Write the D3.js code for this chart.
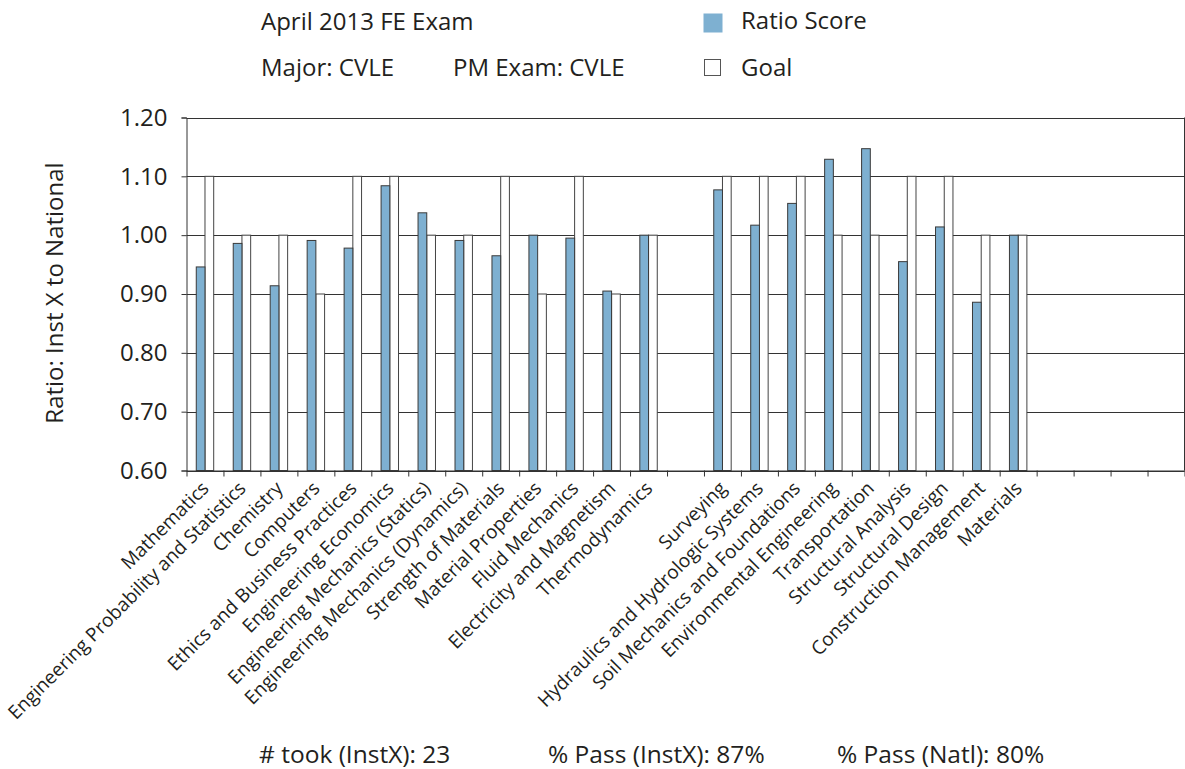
<!DOCTYPE html>
<html>
<head>
<meta charset="utf-8">
<script src="https://cdn.jsdelivr.net/npm/d3@7"></script>
<style>
    body { margin: 0; background: #fff; }
    text { font-family: "Open Sans", sans-serif; fill: #231f20; }
</style>
</head>
<body>
<div id="chart"></div>
<script>

// categories of the exam (blank ones are empty slots on the axis)
var categories = ["Mathematics", "Engineering Probability and Statistics", "Chemistry", "Computers",
    "Ethics and Business Practices", "Engineering Economics", "Engineering Mechanics (Statics)",
    "Engineering Mechanics (Dynamics)", "Strength of Materials", "Material Properties", "Fluid Mechanics",
    "Electricity and Magnetism", "Thermodynamics", "", "Surveying", "Hydraulics and Hydrologic Systems",
    "Soil Mechanics and Foundations", "Environmental Engineering", "Transportation", "Structural Analysis",
    "Structural Design", "Construction Management", "Materials", "", "", "", ""];

var ratioScores = [0.946, 0.986, 0.914, 0.991, 0.978, 1.084, 1.038, 0.991, 0.965, 1.000, 0.995, 0.905, 1.000,
    null, 1.077, 1.017, 1.054, 1.129, 1.147, 0.955, 1.014, 0.886, 1.000, null, null, null, null];

var goals = [1.10, 1.00, 1.00, 0.90, 1.10, 1.10, 1.00, 1.00, 1.10, 0.90, 1.10, 0.90, 1.00,
    null, 1.10, 1.10, 1.10, 1.00, 1.00, 1.10, 1.10, 1.00, 1.00, null, null, null, null];

var yTicks = [0.60, 0.70, 0.80, 0.90, 1.00, 1.10, 1.20];

var headerLines = ["April 2013 FE Exam", "Major: CVLE", "PM Exam: CVLE"];
var legendLabels = ["Ratio Score", "Goal"];
var footerLabels = ["# took (InstX): 23", "% Pass (InstX): 87%", "% Pass (Natl): 80%"];

var blue = "#7eb0d1";

var svg = d3.select("#chart").append("svg")
    .attr("width", 1185)
    .attr("height", 769);

var plotLeft = 186.5, plotRight = 1184.5, plotTop = 117.5, plotBottom = 470.5;

var x = d3.scaleBand()
    .domain(d3.range(categories.length))
    .range([plotLeft, plotRight]);

var x1 = d3.scaleBand()
    .domain(["ratio", "goal"])
    .range([0, x.bandwidth()])
    .paddingOuter(1.12);

var xEdge = d3.scaleLinear()
    .domain([0, categories.length])
    .range([plotLeft, plotRight]);

var y = d3.scaleLinear()
    .domain([0.6, 1.2])
    .range([plotBottom, plotTop]);

//gridlines
svg.append("g").selectAll("line")
    .data(yTicks)
    .enter().append("line")
    .attr("x1", plotLeft)
    .attr("x2", plotRight)
    .attr("y1", function (d) { return Math.round(y(d)) + 0.5; })
    .attr("y2", function (d) { return Math.round(y(d)) + 0.5; })
    .style("stroke", "#333")
    .style("stroke-width", 1);

//right border
svg.append("line")
    .attr("x1", plotRight).attr("x2", plotRight)
    .attr("y1", y(1.2)).attr("y2", y(0.6))
    .style("stroke", "#333");

//goal bars
var bars = svg.append("g");
bars.selectAll("rect.goal")
    .data(goals.map(function (v, i) { return {i: i, v: v}; }).filter(function (d) { return d.v !== null; }))
    .enter().append("rect")
    .attr("class", "goal")
    .attr("x", function (d) { return x(d.i) + x1("goal"); })
    .attr("y", function (d) { return y(d.v); })
    .attr("width", x1.bandwidth())
    .attr("height", function (d) { return y(0.6) - y(d.v); })
    .attr("fill", "#fff")
    .attr("stroke", "#444")
    .attr("stroke-width", 1);

//ratio score bars
bars.selectAll("rect.ratio")
    .data(ratioScores.map(function (v, i) { return {i: i, v: v}; }).filter(function (d) { return d.v !== null; }))
    .enter().append("rect")
    .attr("class", "ratio")
    .attr("x", function (d) { return x(d.i) + x1("ratio"); })
    .attr("y", function (d) { return y(d.v); })
    .attr("width", x1.bandwidth())
    .attr("height", function (d) { return y(0.6) - y(d.v); })
    .attr("fill", blue)
    .attr("stroke", "#3a3a3a")
    .attr("stroke-width", 1);

//y axis
var yAxis = svg.append("g")
    .attr("transform", "translate(" + plotLeft + ",0)")
    .call(d3.axisLeft(y).tickValues(yTicks).tickFormat(d3.format(".2f")).tickSize(5).tickPadding(14));
yAxis.selectAll("text")
    .style("font-family", "Open Sans")
    .style("font-size", "24px")
    .attr("fill", "#231f20");
yAxis.selectAll("line, path").attr("stroke", "#333");

//x axis: ticks at category edges
var xAxis = svg.append("g")
    .attr("transform", "translate(0," + plotBottom + ")")
    .call(d3.axisBottom(xEdge).tickValues(d3.range(categories.length + 1)).tickFormat("").tickSize(6).tickSizeOuter(0));
xAxis.selectAll("line, path").attr("stroke", "#333");

//category labels
svg.append("g").selectAll("text")
    .data(categories)
    .enter().append("text")
    .attr("transform", function (d, i) {
        return "translate(" + (x(i) + x.bandwidth() / 2 + 5) + "," + (plotBottom + 19) + ") rotate(-45)";
    })
    .attr("text-anchor", "end")
    .style("font-size", "19px")
    .text(function (d) { return d; });

//y axis title
svg.append("text")
    .attr("transform", "translate(63,293) rotate(-90)")
    .attr("text-anchor", "middle")
    .style("font-size", "24px")
    .text("Ratio: Inst X to National");

//header
svg.append("text").attr("x", 261).attr("y", 30).style("font-size", "24px").text(headerLines[0]);
svg.append("text").attr("x", 261).attr("y", 76).style("font-size", "24px").text(headerLines[1]);
svg.append("text").attr("x", 453).attr("y", 76).style("font-size", "24px").text(headerLines[2]);

//legend
svg.append("rect")
    .attr("x", 703.5).attr("y", 13.5)
    .attr("width", 19).attr("height", 19)
    .attr("fill", blue);
svg.append("rect")
    .attr("x", 704.5).attr("y", 59.5)
    .attr("width", 16).attr("height", 16)
    .attr("fill", "#fff")
    .attr("stroke", "#555");
svg.append("text").attr("x", 741).attr("y", 29).style("font-size", "24px").text(legendLabels[0]);
svg.append("text").attr("x", 741).attr("y", 76).style("font-size", "24px").text(legendLabels[1]);

//footer
var footerX = [259, 548, 837];
svg.append("g").selectAll("text")
    .data(footerLabels)
    .enter().append("text")
    .attr("x", function (d, i) { return footerX[i]; })
    .attr("y", 763)
    .style("font-size", "24.5px")
    .text(function (d) { return d; });

</script>
</body>
</html>
